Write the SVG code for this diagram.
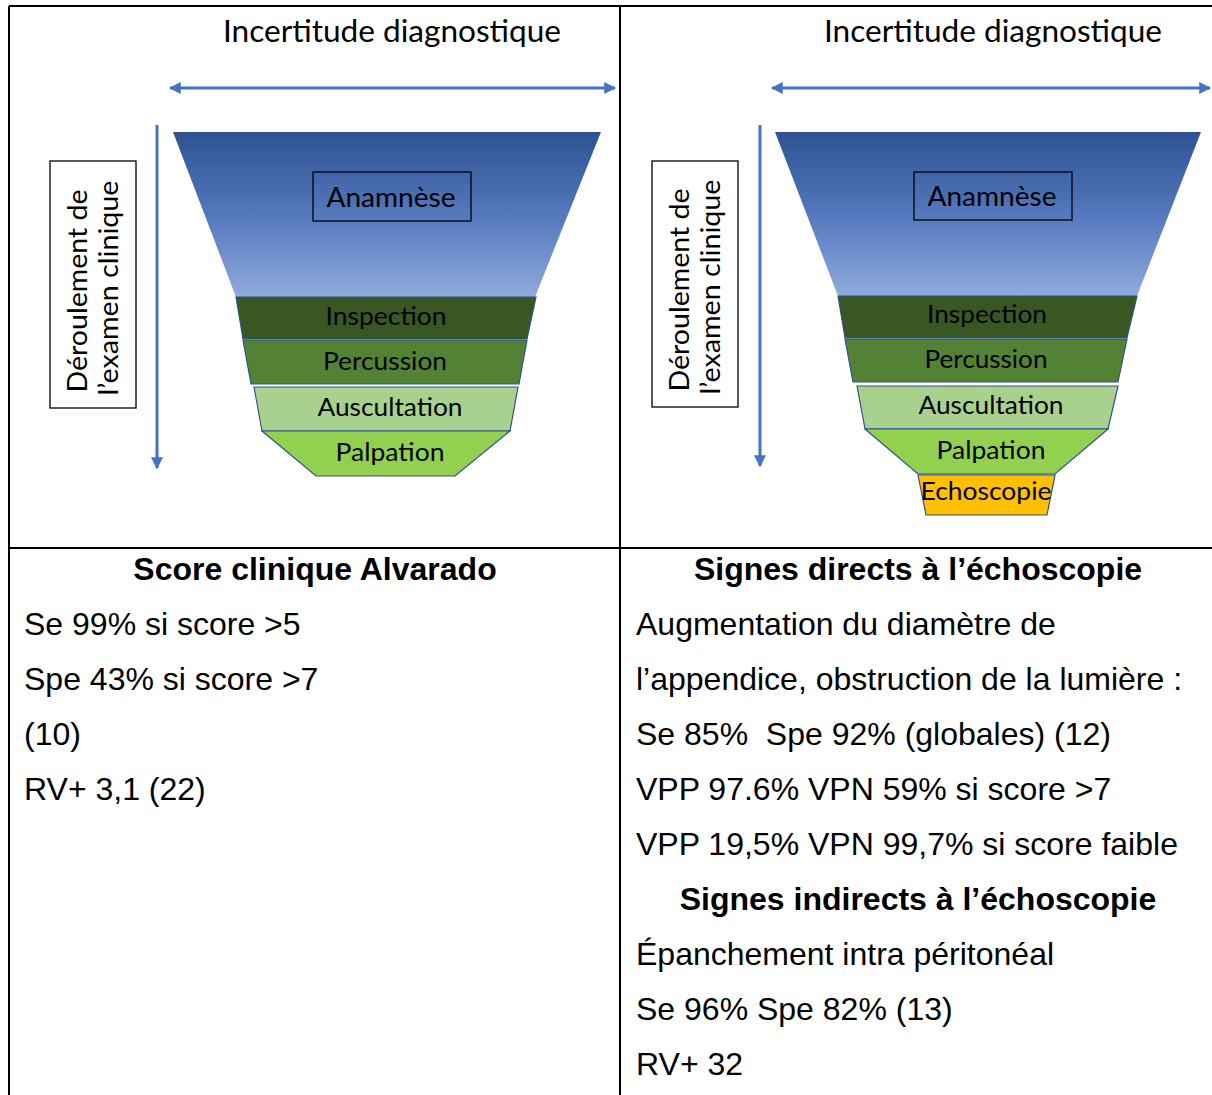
<svg xmlns="http://www.w3.org/2000/svg" width="1212" height="1095" viewBox="0 0 1212 1095">
<defs>
<linearGradient id="blueGrad" x1="0" y1="0" x2="0" y2="1">
<stop offset="0" stop-color="#2E5291"/>
<stop offset="0.5" stop-color="#5577BD"/>
<stop offset="1" stop-color="#8FAADC"/>
</linearGradient>
<marker id="ah" viewBox="0 0 10 10" refX="9" refY="5" markerWidth="12" markerHeight="12" markerUnits="userSpaceOnUse" orient="auto-start-reverse">
<path d="M0,0 L10,5 L0,10 z" fill="#4472C4"/>
</marker>
<style>
.cal{font-family:Lato,"Open Sans","Noto Sans",sans-serif;fill:#000}
.ar{font-family:"Liberation Sans",Arial,sans-serif;font-size:32px;fill:#000}
.b{font-weight:bold}
.arrow{stroke:#4472C4;stroke-width:3;fill:none}
.seg{stroke:#2F528F;stroke-width:1.2}
.grid{stroke:#000;stroke-width:2;fill:none}
.box{fill:none;stroke:#000;stroke-width:1.3}
</style>
</defs>

<g id="table">
<line class="grid" x1="9" y1="6" x2="1212" y2="6"/>
<line class="grid" x1="9" y1="6" x2="9" y2="1095"/>
<line class="grid" x1="620" y1="6" x2="620" y2="1095"/>
<line class="grid" x1="9" y1="548" x2="1212" y2="548"/>
</g>

<g id="connectors">
<line class="arrow" x1="170" y1="88" x2="615" y2="88" marker-start="url(#ah)" marker-end="url(#ah)"/>
<line class="arrow" x1="157" y1="125" x2="157" y2="468" marker-end="url(#ah)"/>
<line class="arrow" x1="772" y1="88" x2="1210" y2="88" marker-start="url(#ah)" marker-end="url(#ah)"/>
<line class="arrow" x1="760" y1="125" x2="760" y2="466" marker-end="url(#ah)"/>
</g>

<g id="left-title"><text class="cal" x="392" y="42" font-size="30" text-anchor="middle" textLength="338" lengthAdjust="spacingAndGlyphs">Incertitude diagnostique</text></g>
<g id="right-title"><text class="cal" x="993" y="42" font-size="30" text-anchor="middle" textLength="338" lengthAdjust="spacingAndGlyphs">Incertitude diagnostique</text></g>

<g id="left-label">
<rect class="box" x="50" y="161" width="86" height="247"/>
<text class="cal" font-size="27" text-anchor="middle" transform="translate(87,291) rotate(-90)" textLength="203" lengthAdjust="spacingAndGlyphs">Déroulement de</text>
<text class="cal" font-size="27" text-anchor="middle" transform="translate(118,288) rotate(-90)" textLength="215" lengthAdjust="spacingAndGlyphs">l’examen clinique</text>
</g>
<g id="right-label">
<rect class="box" x="652" y="161" width="86" height="246"/>
<text class="cal" font-size="27" text-anchor="middle" transform="translate(689,290) rotate(-90)" textLength="203" lengthAdjust="spacingAndGlyphs">Déroulement de</text>
<text class="cal" font-size="27" text-anchor="middle" transform="translate(720,287) rotate(-90)" textLength="215" lengthAdjust="spacingAndGlyphs">l’examen clinique</text>
</g>

<g id="left-anamnese">
<polygon points="173,132 601,132 535,297 236,297" fill="url(#blueGrad)"/>
<rect class="box" x="313" y="172" width="158" height="49"/>
<text class="cal" x="391" y="207" font-size="26" text-anchor="middle" textLength="129" lengthAdjust="spacingAndGlyphs">Anamnèse</text>
</g>
<g id="left-inspection">
<polygon class="seg" points="236,297 536,297 527,339 243,339" fill="#385723"/>
<text class="cal" x="386" y="325" font-size="25" text-anchor="middle" textLength="121" lengthAdjust="spacingAndGlyphs">Inspection</text>
</g>
<g id="left-percussion">
<polygon class="seg" points="243,340 527,340 519,384 251,384" fill="#548235"/>
<text class="cal" x="385" y="370" font-size="25" text-anchor="middle" textLength="124" lengthAdjust="spacingAndGlyphs">Percussion</text>
</g>
<g id="left-auscultation">
<polygon class="seg" points="254,387 518,387 510,431 262,431" fill="#A9D18E"/>
<text class="cal" x="390" y="416" font-size="25" text-anchor="middle" textLength="145" lengthAdjust="spacingAndGlyphs">Auscultation</text>
</g>
<g id="left-palpation">
<polygon class="seg" points="262,431 510,431 455,476 316,476" fill="#92D050"/>
<text class="cal" x="390" y="461" font-size="25" text-anchor="middle" textLength="109" lengthAdjust="spacingAndGlyphs">Palpation</text>
</g>

<g id="right-anamnese">
<polygon points="775,132 1201,132 1137,296 838,296" fill="url(#blueGrad)"/>
<rect class="box" x="914" y="172" width="158" height="48"/>
<text class="cal" x="992" y="206" font-size="26" text-anchor="middle" textLength="129" lengthAdjust="spacingAndGlyphs">Anamnèse</text>
</g>
<g id="right-inspection">
<polygon class="seg" points="838,296 1137,296 1127,338 845,338" fill="#385723"/>
<text class="cal" x="987" y="323" font-size="25" text-anchor="middle" textLength="120" lengthAdjust="spacingAndGlyphs">Inspection</text>
</g>
<g id="right-percussion">
<polygon class="seg" points="845,339 1127,339 1118,382 853,382" fill="#548235"/>
<text class="cal" x="986" y="368" font-size="25" text-anchor="middle" textLength="123" lengthAdjust="spacingAndGlyphs">Percussion</text>
</g>
<g id="right-auscultation">
<polygon class="seg" points="857,386 1118,386 1108,429 865,429" fill="#A9D18E"/>
<text class="cal" x="991" y="414" font-size="25" text-anchor="middle" textLength="145" lengthAdjust="spacingAndGlyphs">Auscultation</text>
</g>
<g id="right-palpation">
<polygon class="seg" points="865,429 1108,429 1055,474 918,474" fill="#92D050"/>
<text class="cal" x="991" y="459" font-size="25" text-anchor="middle" textLength="109" lengthAdjust="spacingAndGlyphs">Palpation</text>
</g>
<g id="right-echoscopie">
<polygon class="seg" points="918,475 1055,475 1047,515 926,515" fill="#FFC000"/>
<text class="cal" x="986" y="500" font-size="25" text-anchor="middle" textLength="131" lengthAdjust="spacingAndGlyphs">Echoscopie</text>
</g>

<g id="left-text">
<text class="ar b" x="315" y="580" text-anchor="middle">Score clinique Alvarado</text>
<text class="ar" x="24" y="635">Se 99% si score &gt;5</text>
<text class="ar" x="24" y="690">Spe 43% si score &gt;7</text>
<text class="ar" x="24" y="745">(10)</text>
<text class="ar" x="24" y="800">RV+ 3,1 (22)</text>
</g>

<g id="right-text">
<text class="ar b" x="918" y="580" text-anchor="middle">Signes directs à l’échoscopie</text>
<text class="ar" x="636" y="635">Augmentation du diamètre de</text>
<text class="ar" x="636" y="690">l’appendice, obstruction de la lumière :</text>
<text class="ar" x="636" y="745" xml:space="preserve">Se 85%  Spe 92% (globales) (12)</text>
<text class="ar" x="636" y="800">VPP 97.6% VPN 59% si score &gt;7</text>
<text class="ar" x="636" y="855">VPP 19,5% VPN 99,7% si score faible</text>
<text class="ar b" x="918" y="910" text-anchor="middle">Signes indirects à l’échoscopie</text>
<text class="ar" x="636" y="965">Épanchement intra péritonéal</text>
<text class="ar" x="636" y="1020">Se 96% Spe 82% (13)</text>
<text class="ar" x="636" y="1075">RV+ 32</text>
</g>
</svg>
